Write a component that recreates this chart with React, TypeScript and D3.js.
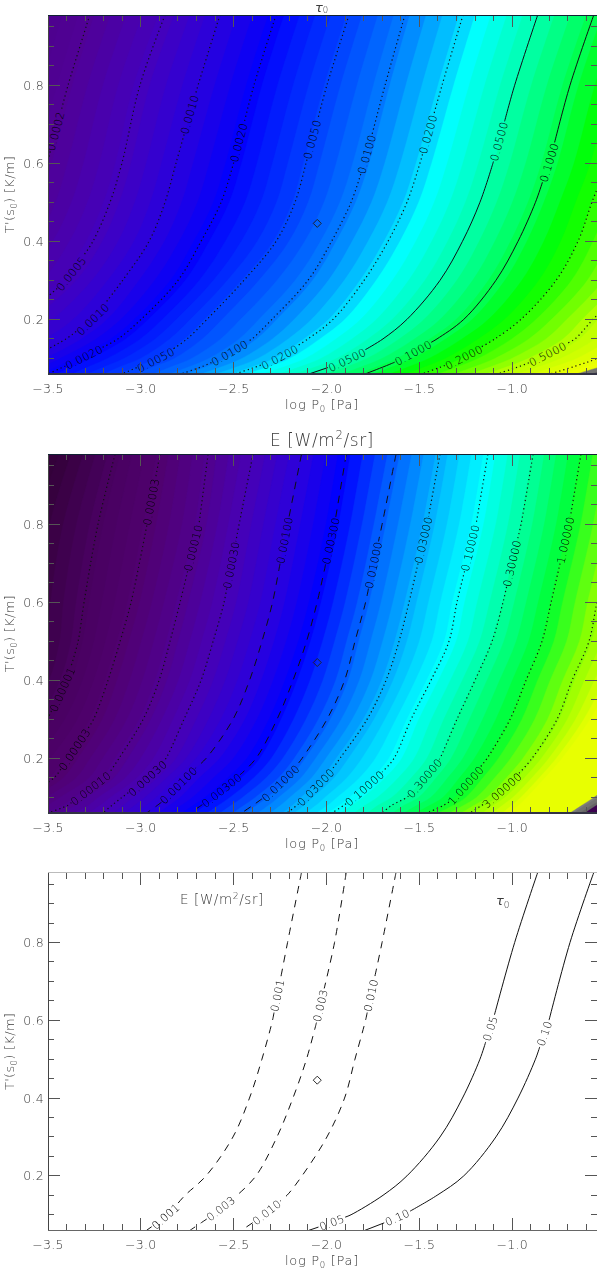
import React from 'react'
import * as d3 from 'd3'

const tRows = [0.98, 0.8, 0.6, 0.5, 0.4, 0.3, 0.2, 0.15, 0.1, 0.08, 0.06]

// log P0 of each tau contour along tRows
const tau0002 = [-3.275, -3.392, -3.505, -3.57, -3.678, -3.839, -4.082, -4.243, -4.405, -4.512, -4.62]
const tau0005 = [-2.87, -3.005, -3.102, -3.166, -3.258, -3.398, -3.651, -3.812, -3.974, -4.055, -4.135]
const tau001 = [-2.574, -2.692, -2.811, -2.87, -2.956, -3.098, -3.258, -3.403, -3.597, -3.678, -3.758]
const tau002 = [-2.272, -2.391, -2.501, -2.568, -2.676, -2.8, -2.999, -3.123, -3.317, -3.408, -3.5]
const tau005 = [-1.879, -1.998, -2.111, -2.17, -2.272, -2.445, -2.644, -2.751, -2.897, -3.005, -3.102]
const tau01 = [-1.578, -1.685, -1.796, -1.868, -1.973, -2.1, -2.294, -2.401, -2.568, -2.665, -2.784]
const tau02 = [-1.265, -1.378, -1.497, -1.567, -1.669, -1.798, -1.965, -2.1, -2.261, -2.369, -2.493]
const tau05 = [-0.863, -0.987, -1.104, -1.174, -1.268, -1.389, -1.567, -1.696, -1.868, -1.971, -2.095]
const tau10 = [-0.561, -0.689, -0.802, -0.875, -0.969, -1.088, -1.261, -1.405, -1.583, -1.685, -1.793]
const tau20 = [-0.247, -0.377, -0.49, -0.571, -0.646, -0.764, -0.953, -1.093, -1.271, -1.373, -1.486]
const tau50 = [0.2, 0.065, -0.043, -0.14, -0.258, -0.366, -0.565, -0.662, -0.851, -0.958, -1.082]
const tau100 = [0.55, 0.415, 0.28, 0.173, 0.065, -0.043, -0.231, -0.366, -0.544, -0.662, -0.797]

// log P0 of each E contour along tRows
const e00001 = [-3.139, -3.231, -3.306, -3.338, -3.398, -3.505, -3.678, -3.812, -3.92, -4.0, -4.082]
const e00003 = [-2.897, -2.967, -3.053, -3.112, -3.177, -3.255, -3.387, -3.468, -3.64, -3.732, -3.839]
const e0001 = [-2.638, -2.687, -2.789, -2.843, -2.902, -2.988, -3.118, -3.188, -3.338, -3.392, -3.5]
const e0003 = [-2.396, -2.471, -2.552, -2.611, -2.676, -2.768, -2.865, -2.961, -3.102, -3.155, -3.204]
const e001 = [-2.135, -2.21, -2.291, -2.348, -2.415, -2.504, -2.649, -2.762, -2.855, -2.91, -2.969]
const e003 = [-1.894, -1.957, -2.051, -2.108, -2.181, -2.267, -2.38, -2.482, -2.611, -2.673, -2.735]
const e01 = [-1.626, -1.701, -1.79, -1.847, -1.903, -1.998, -2.132, -2.213, -2.337, -2.396, -2.458]
const e03 = [-1.389, -1.459, -1.556, -1.61, -1.68, -1.782, -1.928, -2.003, -2.116, -2.159, -2.213]
const e1 = [-1.131, -1.195, -1.298, -1.341, -1.438, -1.545, -1.637, -1.728, -1.852, -1.906, -1.971]
const e3 = [-0.888, -0.953, -1.05, -1.109, -1.201, -1.298, -1.389, -1.47, -1.567, -1.648, -1.701]
const e10 = [-0.63, -0.694, -0.791, -0.84, -0.926, -1.012, -1.136, -1.217, -1.303, -1.368, -1.459]
const e30 = [-0.377, -0.447, -0.544, -0.587, -0.678, -0.759, -0.894, -0.985, -1.093, -1.163, -1.228]
// edges of the yellow, grey and dark patches (no line drawn)
const eEdge100 = [0.011, -0.097, -0.258, -0.366, -0.463, -0.581, -0.732, -0.824, -0.921, -0.964, -1.012]
const eEdge300 = [0.603, 0.496, 0.334, 0.226, 0.119, -0.043, -0.258, -0.409, -0.56, -0.624, -0.689]
const eEdge600 = [0.711, 0.603, 0.441, 0.334, 0.226, 0.065, -0.151, -0.312, -0.463, -0.544, -0.608]

const tauLevels = [0.0002, 0.0005, 0.001, 0.002, 0.005, 0.01, 0.02, 0.05, 0.1, 0.2, 0.5, 1]
const tauLines = [tau0002, tau0005, tau001, tau002, tau005, tau01, tau02, tau05, tau10, tau20, tau50, tau100]
const tauLabelAt = [[0.682], [0.317], [0.725, 0.2], [0.653, 0.103], [0.661, 0.096], [0.623, 0.114], [0.674, 0.103], [0.656, 0.096], [0.602, 0.114], [0.103], [0.111], []]

const eLevels = [0.00001, 0.00003, 0.0001, 0.0003, 0.001, 0.003, 0.01, 0.03, 0.1, 0.3, 1, 3]
const eLines = [e00001, e00003, e0001, e0003, e001, e003, e01, e03, e1, e3, e10, e30]
const eLabelAt = [[0.377], [0.858, 0.223], [0.74, 0.123], [0.696, 0.149], [0.76, 0.131], [0.758, 0.118], [0.696, 0.136], [0.76, 0.126], [0.74, 0.123], [0.7, 0.149], [0.76, 0.131], [0.118]]

const eEdgeLevels = [10, 30, 60]
const eEdgeLines = [eEdge100, eEdge300, eEdge600]

// colour table, as log10(value) -> colour
const tauStops = [-4.1, -3.7, -3.3, -3, -2.7, -2.3, -2, -1.7, -1.6, -1.3, -1, -0.8, -0.7, -0.3, 0, 0.15, 0.151, 0.25, 0.251, 0.5]
const tauColors = ['#4c0086', '#500096', '#4400bc', '#2a00dc', '#0400fc', '#0040ff', '#0078ff', '#00d0ff', '#00ffff', '#00ffb0', '#00ff50', '#00ff00', '#20ff00', '#b8ff00', '#e4ff00', '#f0ff00', '#808080', '#606060', '#3c0050', '#3c0050']
const tauHardEdges = [0.15, 0.25]
const eStops = [-5.6, -5, -4.52, -4, -3.52, -3, -2.52, -2, -1.52, -1, -0.52, 0, 0.477, 1, 1.476, 1.477, 1.777, 1.778, 2.2]
const eColors = ['#34003a', '#480060', '#50006e', '#50008e', '#4800b4', '#2c00dc', '#0000ff', '#0060ff', '#00b0ff', '#00ffff', '#00ffa0', '#00ff30', '#90ff00', '#e8ff00', '#e8ff00', '#808080', '#606060', '#3c0050', '#3c0050']
const eHardEdges = [1, 1.477, 1.778]

const xMajor = [-3.5, -3, -2.5, -2, -1.5, -1]
const xMinor = [-3.4, -3.3, -3.2, -3.1, -2.9, -2.8, -2.7, -2.6, -2.4, -2.3, -2.2, -2.1, -1.9, -1.8, -1.7, -1.6, -1.4, -1.3, -1.2, -1.1, -0.9, -0.8, -0.7, -0.6]
const yMajor = [0.2, 0.4, 0.6, 0.8]
const yMinor = [0.1, 0.15, 0.25, 0.3, 0.35, 0.45, 0.5, 0.55, 0.65, 0.7, 0.75, 0.85, 0.9, 0.95]

const diamond = { logP: -2.05, t: 0.446 }

// panel 3 keeps only the contours that matter
const e3Levels = [0.001, 0.003, 0.01]
const e3Lines = [e001, e003, e01]
const e3LabelAt = [[0.664, 0.096], [0.638, 0.116], [0.664, 0.106]]
const tau3Levels = [0.05, 0.1]
const tau3Lines = [tau05, tau10]
const tau3LabelAt = [[0.579, 0.08], [0.566, 0.093]]

const FONT = '"DejaVu Sans", sans-serif'
const INK = '#3a3a3a'
const x = d3.scaleLinear().domain([-3.5, -0.5436]).range([48, 597])
const smooth = d3.line().curve(d3.curveCatmullRom)

function splitAtLabels(pts, labels) {
  // walks the polyline and cuts a gap round every label
  const lens = [0]
  for (let i = 1; i < pts.length; i++) {
    lens.push(lens[i - 1] + Math.hypot(pts[i][0] - pts[i - 1][0], pts[i][1] - pts[i - 1][1]))
  }
  const pointAt = s => {
    let i = d3.bisectRight(lens, s) - 1
    i = Math.max(0, Math.min(pts.length - 2, i))
    const f = (s - lens[i]) / (lens[i + 1] - lens[i] || 1)
    return [pts[i][0] + f * (pts[i + 1][0] - pts[i][0]), pts[i][1] + f * (pts[i + 1][1] - pts[i][1])]
  }
  const cuts = labels.map(l => {
    let s = 0
    for (let i = 1; i < pts.length; i++) {
      const a = pts[i - 1], b = pts[i]
      if ((a[1] - l.y) * (b[1] - l.y) <= 0) {
        s = lens[i - 1] + (l.y - a[1]) / (b[1] - a[1] || 1) * (lens[i] - lens[i - 1])
        break
      }
    }
    const p0 = pointAt(s - l.half), p1 = pointAt(s + l.half), c = pointAt(s)
    let angle = Math.atan2(p1[1] - p0[1], p1[0] - p0[0]) * 180 / Math.PI
    if (angle > 90) angle -= 180
    if (angle < -90) angle += 180
    return { s, half: l.half, x: c[0], y: c[1], angle, text: l.text }
  }).sort((a, b) => a.s - b.s)
  const pieces = []
  const piece = (from, to) => {
    if (to <= from) return
    const inner = pts.filter((_, i) => lens[i] > from && lens[i] < to)
    pieces.push([pointAt(from), ...inner, pointAt(to)])
  }
  let start = 0
  cuts.forEach(c => {
    piece(start, c.s - c.half)
    start = c.s + c.half
  })
  piece(start, lens[lens.length - 1])
  return { pieces, cuts }
}

function Contours({ y, levels, lines, labelAt, fmt, dash }) {
  return <g>
    {levels.map((lev, i) => {
      const pts = lines[i].map((v, r) => [x(v), y(tRows[r])])
      const text = fmt(lev)
      const labels = labelAt[i].map(t => ({ y: y(t), text, half: text.length * 3.3 + 1 }))
      const { pieces, cuts } = splitAtLabels(pts, labels)
      const pattern = dash(lev)
      return <g key={lev}>
        {pieces.map((p, k) => <path key={k} d={smooth(p)} fill="none" stroke="#111" strokeWidth={pattern === '1.2 3' ? 1.2 : 1} strokeDasharray={pattern || undefined} />)}
        {cuts.map((c, k) => <text key={k} transform={`translate(${c.x},${c.y}) rotate(${c.angle})`} textAnchor="middle" dy="0.36em" fontFamily={FONT} fontWeight={200} fontSize={11} letterSpacing={0.3} fill="#000">{c.text}</text>)}
      </g>
    })}
  </g>
}

function Bands({ id, y, levels, lines, stops, colors, bandMin, bandMax, bandStep, hardEdges }) {
  const logs = levels.map(Math.log10)
  const color = d3.scaleLinear().domain(stops).range(colors).clamp(true)
  // one level->position scale per row
  const rowScales = tRows.map((_, r) => d3.scaleLinear().domain(logs).range(lines.map(l => l[r])))
  const edges = [...d3.range(bandMin, bandMax, bandStep), ...hardEdges].sort(d3.ascending)
  const [px0, px1] = x.range()
  const top = y(tRows[0]), bottom = y(tRows[tRows.length - 1])
  return <g clipPath={`url(#${id})`}>
    <rect x={px0} y={top} width={px1 - px0} height={bottom - top} fill={color(bandMin)} />
    {edges.map((e, i) => {
      const next = i < edges.length - 1 ? edges[i + 1] : e + bandStep
      const fill = color((e + next) / 2)
      const curve = tRows.map((t, r) => [x(rowScales[r](e)), y(t)])
      const d = `${smooth(curve)}L${px1 + 400},${bottom}L${px1 + 400},${top}Z`
      return <path key={i} d={d} fill={fill} stroke={fill} strokeWidth={0.4} />
    })}
  </g>
}

function Axes({ y, topStroke, bottomStroke, bottomWidth }) {
  const [px0, px1] = x.range()
  const [py0, py1] = y.range()
  const tick = { stroke: '#555', strokeWidth: 1 }
  return <g shapeRendering="crispEdges">
    {xMajor.map(v => <g key={v}>
      <line x1={x(v)} x2={x(v)} y1={py0} y2={py0 - 12} {...tick} />
      <line x1={x(v)} x2={x(v)} y1={py1} y2={py1 + 12} {...tick} />
    </g>)}
    {xMinor.map(v => <g key={v}>
      <line x1={x(v)} x2={x(v)} y1={py0} y2={py0 - 6} {...tick} />
      <line x1={x(v)} x2={x(v)} y1={py1} y2={py1 + 6} {...tick} />
    </g>)}
    {yMajor.map(v => <g key={v}>
      <line x1={px0} x2={px0 + 12} y1={y(v)} y2={y(v)} {...tick} />
      <line x1={px1} x2={px1 - 12} y1={y(v)} y2={y(v)} {...tick} />
    </g>)}
    {yMinor.map(v => <g key={v}>
      <line x1={px0} x2={px0 + 6} y1={y(v)} y2={y(v)} {...tick} />
      <line x1={px1} x2={px1 - 6} y1={y(v)} y2={y(v)} {...tick} />
    </g>)}
    <line x1={px0} x2={px0} y1={py0} y2={py1} stroke="#444" />
    <line x1={px0} x2={px1} y1={py1} y2={py1} stroke={topStroke} />
    <line x1={px0} x2={px1} y1={py0} y2={py0} stroke={bottomStroke} strokeWidth={bottomWidth} />
  </g>
}

function AxisText({ y }) {
  const [py0, py1] = y.range()
  const label = { fontFamily: FONT, fontWeight: 200, fontSize: 12.5, fill: INK, letterSpacing: 0.3 }
  return <g>
    {xMajor.map(v => <text key={v} x={x(v)} y={py0 + 19} textAnchor="middle" {...label}>{'\u2212' + Math.abs(v).toFixed(1)}</text>)}
    {yMajor.map(v => <text key={v} x={44} y={y(v)} dy="0.36em" textAnchor="end" {...label}>{v.toFixed(1)}</text>)}
    <text x={322} y={py0 + 35} textAnchor="middle" {...label} fontSize={13} letterSpacing={0.7}>log P<tspan fontSize={8.5} dy={2.5}>0</tspan><tspan dy={-2.5}> [Pa]</tspan></text>
    <text transform={`translate(14,${(py0 + py1) / 2}) rotate(-90)`} textAnchor="middle" {...label} fontSize={13}>T'(s<tspan fontSize={8.5} dy={2.5}>0</tspan><tspan dy={-2.5}>) [K/m]</tspan></text>
  </g>
}

function Diamond({ y }) {
  const d = d3.symbol(d3.symbolSquare, 32)()
  return <path d={d} transform={`translate(${x(diamond.logP)},${y(diamond.t)}) rotate(45)`} fill="none" stroke="#222" strokeWidth={0.9} />
}

function ETitle({ px, py, size, spacing }) {
  return <text x={px} y={py} fontFamily={FONT} fontWeight={200} fontSize={size} letterSpacing={spacing} fill={INK}>E [W/m<tspan fontSize={size * 0.68} dy={-size * 0.4}>2</tspan><tspan dy={size * 0.4}>/sr]</tspan></text>
}

function TauTitle({ px, py, size, subSize, subDy }) {
  return <text x={px} y={py} fontFamily={FONT} fontWeight={200} fontSize={size} fill={INK}><tspan fontStyle="italic">{'\u03c4'}</tspan><tspan fontSize={subSize} dy={subDy}>0</tspan></text>
}

const dec4 = v => v.toFixed(4)
const dec5 = v => v.toFixed(5)
const dec3 = v => v.toFixed(3)
const dec2 = v => v.toFixed(2)

export default function App() {
  const yA = d3.scaleLinear().domain([0.06, 0.98]).range([374, 15])
  const yB = d3.scaleLinear().domain([0.06, 0.98]).range([813, 454.3])
  const yC = d3.scaleLinear().domain([0.06, 0.98]).range([1230.3, 872.5])
  const clip = (id, y) => <clipPath id={id}><rect x={48} y={y.range()[1]} width={549} height={y.range()[0] - y.range()[1]} /></clipPath>

  // opacity just under 1 gives the page a layer of its own, so the text gets grey antialiasing
  return <svg width={597} height={1270} style={{ position: 'absolute', left: 0, top: 0, display: 'block', opacity: 0.999 }}>
    <defs>
      {clip('pa', yA)}
      {clip('pb', yB)}
      {clip('pc', yC)}
    </defs>

    <Bands id="pa" y={yA} levels={tauLevels} lines={tauLines} stops={tauStops} colors={tauColors} bandMin={-4.1} bandMax={0.5} bandStep={0.085} hardEdges={tauHardEdges} />
    <g clipPath="url(#pa)">
      <Contours y={yA} levels={tauLevels} lines={tauLines} labelAt={tauLabelAt} fmt={dec4} dash={v => (v === 0.05 || v === 0.1 ? '' : '1.2 3')} />
    </g>
    <Diamond y={yA} />
    <Axes y={yA} topStroke="#123" bottomStroke="#334" bottomWidth={2} />
    <AxisText y={yA} />
    <TauTitle px={315} py={12.2} size={13} subSize={8.5} subDy={1.2} />

    <Bands id="pb" y={yB} levels={[...eLevels, ...eEdgeLevels]} lines={[...eLines, ...eEdgeLines]} stops={eStops} colors={eColors} bandMin={-5.6} bandMax={2.2} bandStep={0.13} hardEdges={eHardEdges} />
    <g clipPath="url(#pb)">
      <Contours y={yB} levels={eLevels} lines={eLines} labelAt={eLabelAt} fmt={dec5} dash={v => (v >= 0.001 && v <= 0.01 ? '7.5 6.5' : '1.2 3')} />
    </g>
    <Diamond y={yB} />
    <Axes y={yB} topStroke="#123" bottomStroke="#334" bottomWidth={2} />
    <AxisText y={yB} />
    <ETitle px={270} py={446} size={17} spacing={0.6} />

    <g clipPath="url(#pc)">
      <Contours y={yC} levels={e3Levels} lines={e3Lines} labelAt={e3LabelAt} fmt={dec3} dash={() => '7.5 6.5'} />
      <Contours y={yC} levels={tau3Levels} lines={tau3Lines} labelAt={tau3LabelAt} fmt={dec2} dash={() => ''} />
    </g>
    <Diamond y={yC} />
    <Axes y={yC} topStroke="#bbb" bottomStroke="#666" bottomWidth={1} />
    <AxisText y={yC} />
    <ETitle px={180} py={904} size={13.5} spacing={0.6} />
    <TauTitle px={496} py={905} size={13} subSize={9} subDy={3} />
  </svg>
}
